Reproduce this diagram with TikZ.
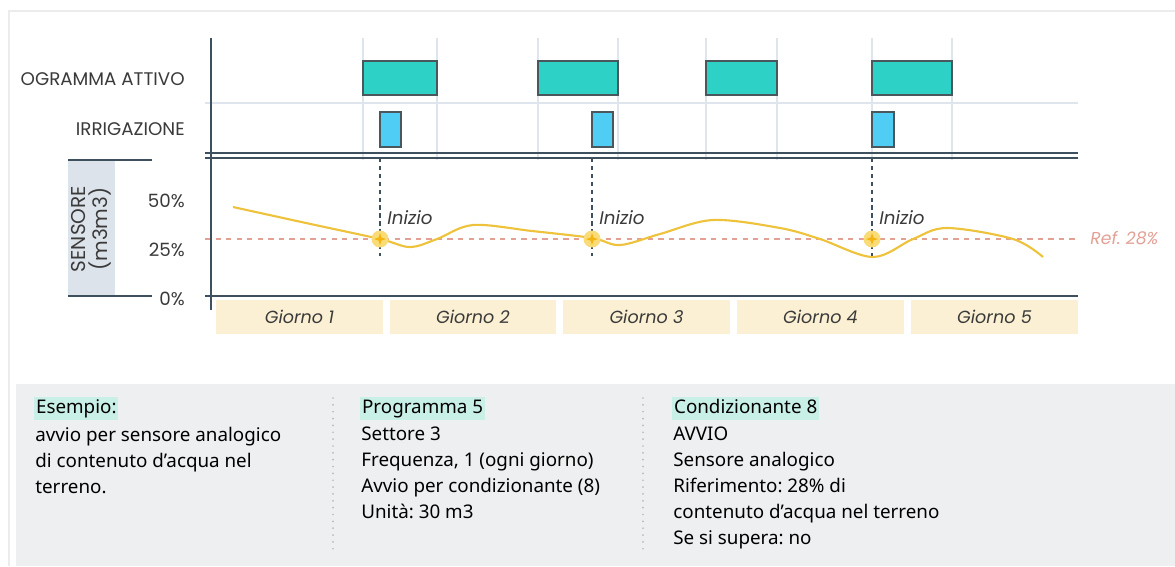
\documentclass[tikz,border=0pt]{standalone}
\usepackage{fontspec}
\setmainfont{Noto Sans}
\newfontfamily\chartfont{Poppins}
\usepackage{tikz}
\frenchspacing
\definecolor{progteal}{HTML}{2DD1C5}
\definecolor{irrblue}{HTML}{4FCDF5}
\definecolor{edgegray}{HTML}{4A585E}
\definecolor{axisslate}{HTML}{3E4F5E}
\definecolor{gridlight}{HTML}{DEE5EC}
\definecolor{daybeige}{HTML}{FBF0D3}
\definecolor{curveyellow}{HTML}{EEC23A}
\definecolor{halo}{HTML}{F9DB78}
\definecolor{markcore}{HTML}{F4B512}
\definecolor{refpink}{HTML}{E3A196}
\definecolor{panelgray}{HTML}{EEEFF1}
\definecolor{minthl}{HTML}{C9F0E6}
\definecolor{sensgray}{HTML}{DDE3EA}
\definecolor{inktext}{HTML}{3A3A3A}
\definecolor{framegray}{HTML}{ECECEC}
\newcommand{\progbox}[2]{\filldraw[fill=progteal, draw=edgegray, line width=0.7pt] (#1,61) rectangle (#2,95);}
\newcommand{\irrbox}[2]{\filldraw[fill=irrblue, draw=edgegray, line width=0.7pt] (#1,112) rectangle (#2,147);}
\newcommand{\gridv}[1]{\draw[gridlight, line width=0.6pt] (#1,38) -- (#1,160);}
\newcommand{\daybar}[3]{\fill[daybeige] (#1,300) rectangle (#2,334);
  \node[daytext] (g#3) at ({(#1+#2)/2},317) {Giorno #3};}
\newcommand{\startmark}[2]{\draw[axisslate, line width=0.8pt, dash pattern=on 2.5pt off 2pt] (#1,158) -- (#1,256);
  \fill[halo] (#1,239) circle (8.5);
  \fill[markcore] (#1,233) -- (#1+1.5,237.5) -- (#1+6,239) -- (#1+1.5,240.5) -- (#1,245) -- (#1-1.5,240.5) -- (#1-6,239) -- (#1-1.5,237.5) -- cycle;
  \node[inizio, anchor=west] (#2) at (#1+7,218) {Inizio};}

\begin{document}
\begin{tikzpicture}[x=0.02cm, y=-0.02cm,
    rowlabel/.style={font=\chartfont\fontsize{10.4}{11}\selectfont, text=inktext, anchor=east, inner sep=0pt},
    daytext/.style={font=\chartfont\itshape\fontsize{10}{11}\selectfont, text=inktext},
    inizio/.style={font=\chartfont\itshape\fontsize{10.4}{11}\selectfont, text=inktext, inner sep=0pt},
    colhead/.style={fill=minthl, inner xsep=1pt, inner ysep=1.5pt, text height=0.75em, text depth=0.22em, anchor=base west, font=\fontsize{10.7}{14.7}\selectfont, text=black},
    colbody/.style={anchor=north west, align=left, inner sep=0pt, font=\fontsize{10.7}{14.7}\selectfont, text=black},
    coldiv/.style={gray!55, line width=1.1pt, line cap=round, dash pattern=on 0pt off 3.9pt}]
\useasboundingbox (0,0) rectangle (1175,566);
\fill[white] (0,0) rectangle (1175,566);
% frame and bottom panel
\draw[framegray, line width=1.6pt] (9,566) -- (9,11) -- (1175,11);
\fill[panelgray] (16,384) rectangle (1175,566);

% grid of the timeline
\foreach \gx in {363,437,538,618,706,777,872,952} {\gridv{\gx}}
\draw[gridlight, line width=0.7pt] (205,103) -- (1078,103);
\draw[axisslate, line width=1pt] (205,153) -- (1078,153);
\draw[axisslate, line width=1pt] (205,158) -- (1078,158);
\draw[axisslate, line width=1pt] (211,38) -- (211,310);
\draw[axisslate, line width=1pt] (205,296) -- (1078,296);

% programma / irrigazione
\progbox{363}{437}
\progbox{538}{618}
\progbox{706}{777}
\progbox{872}{952}
\irrbox{380}{401}
\irrbox{592}{613}
\irrbox{872}{894}
\node[rowlabel] (lprog) at (185,79) {OGRAMMA ATTIVO};
\node[rowlabel] (lirr) at (185,129) {IRRIGAZIONE};

% sensore
\fill[sensgray] (68,160) rectangle (115,296);
\draw[axisslate, line width=1pt] (68,160) -- (152,160);
\draw[axisslate, line width=1pt] (68,296) -- (152,296);
\node[rotate=90, align=center, font=\chartfont\fontsize{11.4}{12.4}\selectfont, text=inktext, inner sep=0pt] (lsens) at (91,229) {SENSORE\\(m3m3)};
\node[rowlabel] (p50) at (185,201) {50\%};
\node[rowlabel] (p25) at (185,250) {25\%};
\node[rowlabel] (p0) at (185,299) {0\%};

% riferimento
\draw[refpink, line width=1pt, dash pattern=on 3pt off 3pt] (205,239) -- (1078,239);
\node[font=\chartfont\itshape\fontsize{9.8}{11}\selectfont, text=refpink, anchor=west, inner sep=0pt] (lref) at (1090,238) {Ref. 28\%};

% curva del sensore
\draw[curveyellow, line width=1.2pt] plot[smooth, tension=0.55] coordinates {(233,207) (306,223) (380,239) (410,247) (437,239) (473,225) (532,231) (592,238) (620,245) (660,234) (713,220) (780,228) (820,239) (873,257) (913,239) (947,228) (1013,239) (1043,257)};

\startmark{380}{ini1}
\startmark{592}{ini2}
\startmark{872}{ini3}

% giorni
\daybar{216}{383}{1}
\daybar{390}{556}{2}
\daybar{563}{730}{3}
\daybar{737}{904}{4}
\daybar{911}{1078}{5}

% colonne di testo
\draw[coldiv] (333,398) -- (333,552);
\draw[coldiv] (643,398) -- (643,552);
\node[colhead] (h1) at (34,413) {Esempio:};
\node[colbody] (b1) at (35,427) {avvio per sensore analogico\\di contenuto d’acqua nel\\terreno.};
\node[colhead] (h2) at (360,413) {Programma 5};
\node[colbody] (b2) at (361,427) {Settore 3\\Frequenza, 1 (ogni giorno)\\Avvio per condizionante (8)\\Unità: 30 m3};
\node[colhead] (h3) at (672,413) {Condizionante 8};
\node[colbody] (b3) at (673,427) {AVVIO\\Sensore analogico\\Riferimento: 28\% di\\contenuto d’acqua nel terreno\\Se si supera: no};
\end{tikzpicture}
\end{document}
